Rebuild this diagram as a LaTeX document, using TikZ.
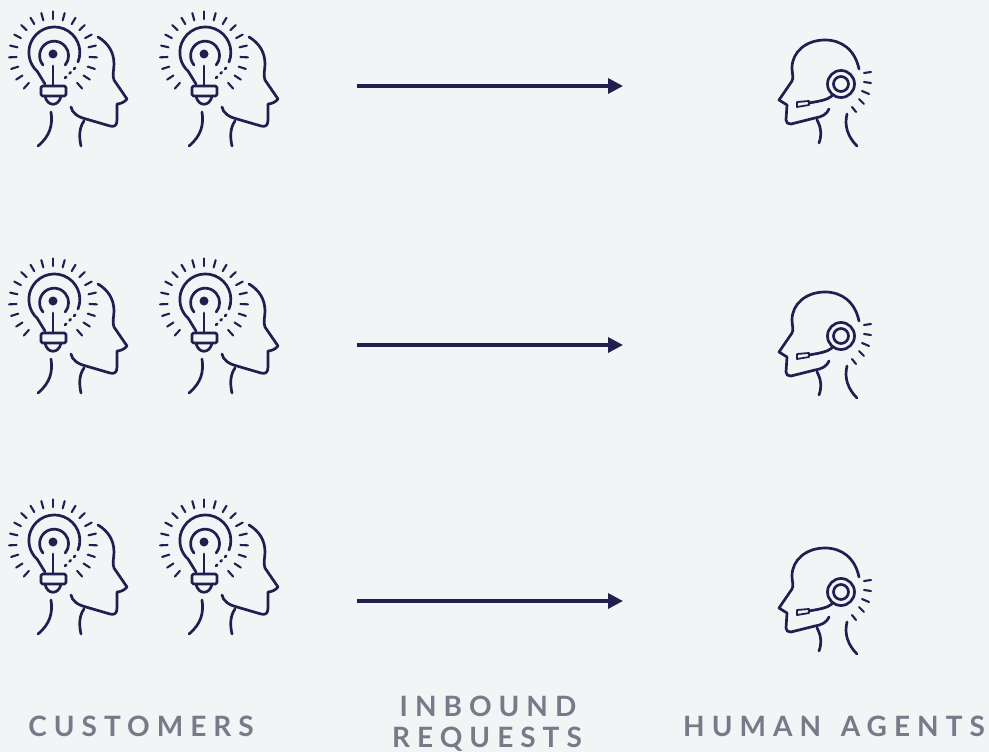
\documentclass[tikz,border=0pt]{standalone}
\usepackage{fontspec}
\usetikzlibrary{arrows.meta}
\newfontfamily\labelfont[LetterSpace=25]{Lato}
\definecolor{paper}{HTML}{F3F4F6}
\definecolor{ink}{HTML}{1F1F50}
\definecolor{labelgrey}{HTML}{767B8A}
\tikzset{
    icon/.style={draw=ink, line width=2.7pt, line cap=round, line join=round},
    ray/.style={icon, line width=2.1pt},
    reqarrow/.style={draw=ink, line width=3.4pt, -{Triangle[length=15pt, width=15pt]}},
    columnlabel/.style={text=labelgrey, font=\labelfont\bfseries\fontsize{28}{32}\selectfont, anchor=base, inner sep=0pt},
    customer/.pic={
        % bulb
        \draw[icon] (78,62) arc[start angle=-22, end angle=228, radius=25.5pt] -- (45,84);
        \draw[icon] (43,65) arc[start angle=220, end angle=-40, radius=14.5pt];
        \fill[ink] (53,54) circle (4.5pt);
        \draw[icon] (53,66) -- (53,86);
        \draw[icon, rounded corners=1.5pt] (41,86) rectangle (66,96);
        \draw[icon] (45,96) .. controls (47,107) and (59,107) .. (61,96);
        \draw[icon, dash pattern=on 1.5pt off 5pt] (65,78) -- (76,67);
        % rays
        \foreach \i in {-9,...,9}
            \draw[ray] (53,55.5) ++({90+\i*15.4}:36.5pt) -- ++({90+\i*15.4}:7.5pt);
        % face
        \draw[icon] (98,37) .. controls (108,43) and (114,52) .. (114,64) .. controls (114,70) and (112,75) .. (114,80)
            -- (127,99) .. controls (125,102) and (120,104) .. (117,104) -- (117,120)
            .. controls (117,126) and (114,127) .. (110,126) -- (86,119) .. controls (78,117) and (72,113) .. (71,107);
        \draw[icon] (84,121) .. controls (79,128) and (79,137) .. (81,146);
        \draw[icon] (51,112) .. controls (53,125) and (50,136) .. (38,146);
    },
    agent/.pic={
        \draw[icon] (859,69) .. controls (855,50) and (842,40) .. (825,40) .. controls (806,40) and (792,52) .. (792,68)
            .. controls (792,74) and (794,77) .. (792,81) -- (779,100) -- (787,105) -- (786,120)
            .. controls (786,123) and (788,124) .. (791,124) -- (815,118) .. controls (822,117) and (827,114) .. (829,109);
        \draw[icon] (817,120) .. controls (821,127) and (822,135) .. (819,143);
        \draw[icon] (847,114) .. controls (844,126) and (848,137) .. (857,146);
        \draw[icon] (841,84) circle (13.5pt);
        \draw[icon] (841,84) circle (7.5pt);
        \draw[icon] (832,96) .. controls (827,100) and (820,101) .. (809,103);
        \draw[icon, line width=1.8pt] (797,102) -- (809,101) -- (809,105) -- (797,107) -- cycle;
        \draw[ray] (864,73) -- (871,72);
        \draw[ray] (864,82) -- (871,83);
        \draw[ray] (862,91) -- (869,94);
        \draw[ray] (859,99) -- (864,104);
        \draw[ray] (852,107) -- (856,112);
    }
}
\begin{document}
\begin{tikzpicture}[x=1pt, y=-1pt]
    \fill[paper] (0,0) rectangle (989,752);
    \useasboundingbox (0,0) rectangle (989,752);
    % customers, agents and requests per row
    \foreach \row/\cy/\ay/\ly in {1/0/0/86, 2/247/252/345, 3/488/508/601} {
        \pic at (0,\cy) {customer};
        \pic at (151,\cy) {customer};
        \pic at (0,\ay) {agent};
        \coordinate (reqstart\row) at (357,\ly);
        \coordinate (reqend\row) at (623,\ly);
        \draw[reqarrow] (reqstart\row) -- (reqend\row);
    }
    \node[columnlabel] (customers) at (141,736) {CUSTOMERS};
    \node[columnlabel] (inbound) at (488,716) {INBOUND};
    \node[columnlabel] (requests) at (487,747) {REQUESTS};
    \node[columnlabel] (agents) at (834,736) {HUMAN\hspace{6pt} AGENTS};
\end{tikzpicture}
\end{document}
